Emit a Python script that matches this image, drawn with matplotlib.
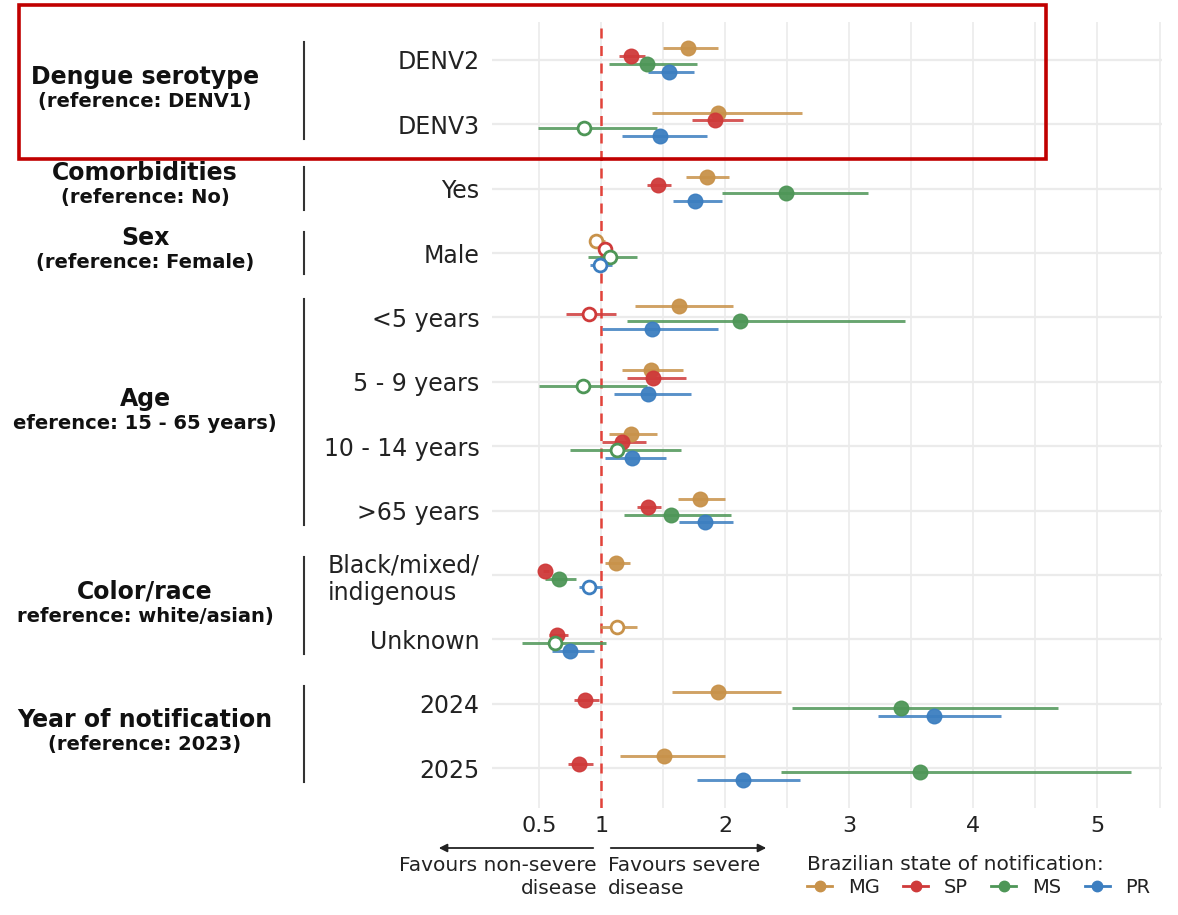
import matplotlib
matplotlib.use("Agg")
import matplotlib.pyplot as plt
import matplotlib.transforms as mtransforms
from matplotlib.lines import Line2D
from matplotlib.patches import Rectangle, FancyArrowPatch

# ---------------- data ----------------
categories = ["DENV2", "DENV3", "Yes", "Male", "<5 years", "5 - 9 years",
              "10 - 14 years", ">65 years", "Black/mixed/\nindigenous",
              "Unknown", "2024", "2025"]

states = ["MG", "SP", "MS", "PR"]
colors = ["#C8924A", "#CF3A3A", "#4E9657", "#3C7EC0"]

mg_est = [1.70, 1.94, 1.85, 0.96, 1.63, 1.40, 1.24, 1.80, 1.12, 1.13, 1.94, 1.51]
mg_lo  = [1.50, 1.41, 1.68, 0.90, 1.27, 1.17, 1.06, 1.62, 1.03, 0.99, 1.57, 1.15]
mg_hi  = [1.94, 2.62, 2.03, 1.03, 2.06, 1.66, 1.45, 2.00, 1.23, 1.29, 2.45, 2.00]

sp_est = [1.24, 1.92, 1.46, 1.03, 0.90, 1.42, 1.17, 1.38, 0.55, 0.64, 0.87, 0.82]
sp_lo  = [1.14, 1.73, 1.37, 0.98, 0.72, 1.21, 1.01, 1.29, 0.53, 0.58, 0.78, 0.73]
sp_hi  = [1.35, 2.14, 1.56, 1.08, 1.12, 1.68, 1.36, 1.48, 0.58, 0.73, 0.98, 0.93]

ms_est = [1.37, 0.86, 2.49, 1.07, 2.12, 0.85, 1.13, 1.56, 0.66, 0.63, 3.42, 3.57]
ms_lo  = [1.06, 0.49, 1.97, 0.89, 1.21, 0.50, 0.75, 1.18, 0.55, 0.36, 2.54, 2.45]
ms_hi  = [1.77, 1.45, 3.15, 1.29, 3.45, 1.37, 1.64, 2.05, 0.80, 1.04, 4.68, 5.27]

pr_est = [1.55, 1.47, 1.76, 0.99, 1.41, 1.38, 1.25, 1.84, 0.90, 0.75, 3.68, 2.14]
pr_lo  = [1.38, 1.17, 1.58, 0.91, 1.01, 1.10, 1.03, 1.63, 0.82, 0.60, 3.23, 1.77]
pr_hi  = [1.75, 1.85, 1.97, 1.09, 1.94, 1.72, 1.52, 2.06, 1.01, 0.94, 4.22, 2.60]

group_titles = ["Dengue serotype", "Comorbidities", "Sex", "Age",
                "Color/race", "Year of notification"]
group_refs = ["(reference: DENV1)", "(reference: No)", "(reference: Female)",
              "eference: 15 - 65 years)", "reference: white/asian)",
              "(reference: 2023)"]
group_first = [0, 2, 3, 4, 8, 10]
group_last = [1, 2, 3, 7, 9, 11]

xticks = [0.5, 1, 2, 3, 4, 5]
xtick_labels = ["0.5", "1", "2", "3", "4", "5"]

# ---------------- figure ----------------
W, H = 1178, 915
fig = plt.figure(figsize=(W / 100, H / 100), dpi=100)
ax = fig.add_axes([492 / W, (H - 808) / H, (1162 - 492) / W, (808 - 22) / H])

n = len(categories)
ax.set_xlim(0.12, 5.52)
ax.set_ylim(n - 1 + 0.62, -0.59)

# grid
for gx in [0.5, 1, 1.5, 2, 2.5, 3, 3.5, 4, 4.5, 5, 5.5]:
    ax.axvline(gx, color="#EBEBEB", lw=1.2, zorder=0)
for i in range(n):
    ax.axhline(i, color="#EBEBEB", lw=1.6, zorder=0)

ax.axvline(1, color="#E2433A", lw=1.8, ls=(0, (4, 3)), zorder=1)

series = [(mg_est, mg_lo, mg_hi), (sp_est, sp_lo, sp_hi),
          (ms_est, ms_lo, ms_hi), (pr_est, pr_lo, pr_hi)]
offsets = [-0.184, -0.061, 0.061, 0.184]

for (est, lo, hi), col, off in zip(series, colors, offsets):
    ys = [i + off for i in range(n)]
    ax.hlines(ys, lo, hi, color=col, lw=2.1, alpha=0.85, zorder=2)
    filled = [not (l <= 1 <= h) for l, h in zip(lo, hi)]
    fx = [e for e, f in zip(est, filled) if f]
    fy = [y for y, f in zip(ys, filled) if f]
    ox = [e for e, f in zip(est, filled) if not f]
    oy = [y for y, f in zip(ys, filled) if not f]
    ax.scatter(fx, fy, s=110, color=col, edgecolors=col, linewidths=1.0,
               alpha=0.95, zorder=3)
    ax.scatter(ox, oy, s=85, facecolors="white", edgecolors=col,
               linewidths=2.0, zorder=3)

for s in ax.spines.values():
    s.set_visible(False)
ax.set_xticks(xticks)
ax.set_xticklabels(xtick_labels, fontsize=16, color="#222222")
ax.set_yticks(range(n))
ax.set_yticklabels(categories, fontsize=17, color="#222222")
ax.tick_params(axis="both", length=0)
ax.tick_params(axis="x", pad=6)
ax.tick_params(axis="y", pad=9)
for lab in ax.get_yticklabels():
    if "\n" in lab.get_text():
        lab.set_multialignment("left")

# group labels and separators
trans = mtransforms.blended_transform_factory(fig.transFigure, ax.transData)
for t, r, a, b in zip(group_titles, group_refs, group_first, group_last):
    c = (a + b) / 2
    fig.text(145 / W, c - 0.24, t, transform=trans, ha="center", va="center",
             fontsize=17, fontweight="bold", color="#111111")
    fig.text(145 / W, c + 0.14, r, transform=trans, ha="center", va="center",
             fontsize=14, fontweight="bold", color="#111111")
    if a == b:
        y0, y1 = a - 0.33, b + 0.33
    else:
        y0, y1 = a - 0.28, b + 0.22
    fig.add_artist(Line2D([304 / W, 304 / W], [y0, y1], transform=trans,
                          color="#333333", lw=1.5))

# direction arrows and text
ya = (H - 848) / H
fig.add_artist(FancyArrowPatch(
    (596 / W, ya), (436 / W, ya), transform=fig.transFigure,
    arrowstyle="-|>", mutation_scale=12, color="#222222", lw=1.3))
fig.add_artist(FancyArrowPatch(
    (608 / W, ya), (769 / W, ya), transform=fig.transFigure,
    arrowstyle="-|>", mutation_scale=12, color="#222222", lw=1.3))
fig.text(597 / W, (H - 856) / H, "Favours non-severe\ndisease", ha="right",
         va="top", fontsize=14.5, color="#222222", linespacing=1.3)
fig.text(608 / W, (H - 856) / H, "Favours severe\ndisease", ha="left",
         va="top", fontsize=14.5, color="#222222", linespacing=1.3)

# legend
handles = [Line2D([], [], color=c, lw=2, marker="o", ms=7.5) for c in colors]
leg = fig.legend(handles, states, ncol=4, loc="upper left",
                 bbox_to_anchor=(807 / W, (H - 855) / H), frameon=False,
                 title="Brazilian state of notification:", title_fontsize=14.5,
                 fontsize=14, alignment="left", handlelength=1.3,
                 handletextpad=0.8, columnspacing=1.2, borderpad=0,
                 borderaxespad=0, labelspacing=0.2)
for txt in leg.get_texts():
    txt.set_color("#222222")
leg.get_title().set_color("#222222")

# highlight box
fig.add_artist(Rectangle((19 / W, (H - 159) / H), (1046 - 19) / W, (159 - 5) / H,
                         transform=fig.transFigure, fill=False,
                         edgecolor="#C00000", lw=2.6))

fig.savefig("out.png", dpi=100, facecolor="white")
